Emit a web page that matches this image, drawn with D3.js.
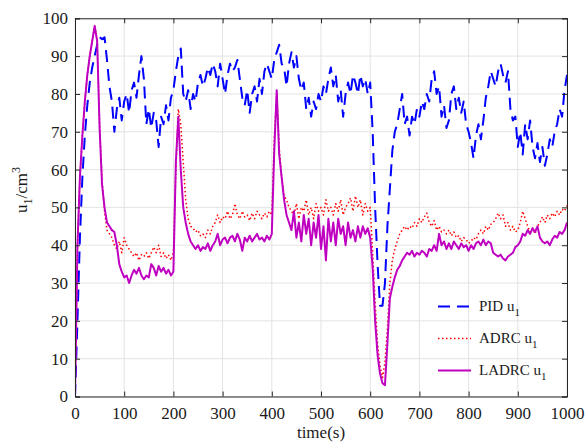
<!DOCTYPE html>
<html>
<head>
<meta charset="utf-8">
<script src="https://cdn.jsdelivr.net/npm/d3@7"></script>
<style>
  html, body { margin: 0; padding: 0; background: #ffffff; }
  svg { display: block; }
  text { font-family: "Liberation Serif", "Times New Roman", serif; fill: #1a1a1a; }
</style>
</head>
<body>
<svg id="chart" width="585" height="446"></svg>
<script>
// ---------------- data ----------------
const time = d3.range(0, 1001, 5); // sampling instants, s

const xTicks = [0, 100, 200, 300, 400, 500, 600, 700, 800, 900, 1000];
const yTicks = [0, 10, 20, 30, 40, 50, 60, 70, 80, 90, 100];

const seriesNames = ["PID", "ADRC", "LADRC"];

const pidU1 = [
  0, 20, 42, 58, 69, 77, 83, 87, 90, 93,
  95, 94.5, 95, 89, 82, 78, 70, 76, 79, 73,
  78, 80, 75, 81, 83, 79, 85, 90, 84, 72,
  76, 71, 75, 73, 66, 74, 72, 77, 73, 79,
  81, 86, 90, 92, 80, 78, 81, 76, 80, 78,
  83, 85, 82, 84, 87, 85, 88, 86, 82, 88,
  84, 80, 85, 88, 86, 87, 89, 84, 79, 77,
  81, 75, 80, 82, 78, 84, 80, 86, 88, 86,
  84, 89, 91, 93, 88, 87, 82, 88, 91, 87,
  90, 84, 81, 83, 76, 79, 74, 78, 76, 80,
  78, 82, 80, 84, 87, 82, 85, 78, 81, 74,
  80, 83, 80, 85, 83, 80, 85, 82, 84, 80,
  83, 70, 50, 35, 24, 24, 30, 45, 55, 65,
  70, 72, 76, 80, 72, 74, 69, 74, 72, 76,
  74, 78, 76, 80, 78, 84, 86, 80, 82, 74,
  77, 71, 73, 80, 82, 76, 79, 75, 78, 72,
  70, 67, 63, 69, 72, 68, 73, 79, 82, 86,
  84, 82, 86, 88, 85, 83, 86, 76, 73, 74,
  66, 70, 64, 72, 68, 73, 66, 63, 67, 62,
  66, 61, 64, 68, 66, 70, 72, 76, 74, 81,
  85
];

const adrcU1 = [
  0, 40, 58, 69, 78, 85, 90, 94, 98, 94,
  72, 57, 49, 44, 43, 42, 40, 39, 41, 38,
  42, 40, 39, 38, 37, 38, 36, 37.5, 37, 38,
  36.5, 38, 39.5, 38, 40, 37, 38, 36.5, 37.5, 36,
  38, 60, 76, 72, 62, 52, 47, 45, 44.5, 43.5,
  44, 42.5, 43, 42, 44, 43, 45, 46, 48, 46,
  47.5, 47, 49, 47, 48, 51, 48, 47, 49, 47.5,
  48, 46.5, 48.5, 47, 49, 48, 47, 48.5, 47.5, 49,
  48, 68, 80, 66, 58, 53, 52, 50, 49, 48,
  51, 47, 50, 49, 52, 48, 50, 47, 51, 49,
  50, 48, 52, 49, 50, 48, 51, 49, 52, 48,
  50, 51, 52.5, 49, 53, 50, 52, 48, 51, 49,
  50, 38, 25, 14, 8, 5, 9, 18, 30, 36,
  39, 41, 43, 44, 45, 44, 45, 44.5, 46, 45,
  47, 46, 47.5, 48.5, 46, 45, 46.5, 44, 45, 43.5,
  44, 43, 44, 42.5, 43.5, 42, 42.5, 41, 42, 41.5,
  40.5, 41, 42, 41.5, 43, 44, 43, 45, 44, 45.5,
  46, 47, 48.5, 47, 48, 45, 46, 44, 45, 43.5,
  44, 46, 49, 47, 45, 43.5, 44.5, 43, 45, 46,
  47.5, 46, 48, 47, 48.5, 47.5, 49, 48, 49.5, 49,
  50.5
];

const ladrcU1 = [
  0, 40, 58, 69, 78, 85, 90, 94, 98, 94,
  71, 56, 50, 46, 45, 44, 43.5, 40, 35, 33,
  31.5, 32, 30, 32, 33.5, 32.5, 34, 32, 31, 32,
  31.5, 35, 34, 32, 34.5, 33, 34, 32.5, 33.5, 32,
  33, 62, 74, 60, 50, 46, 43, 41, 40, 39,
  40, 38.5, 39.5, 39, 40.5, 38.5, 40, 41, 43, 40,
  41.5, 42, 40.5, 42, 42.5, 41, 43, 41.5, 38.5, 42,
  41, 42.5, 41, 42, 43, 41.5, 42, 41, 42.5, 41.5,
  43, 65, 81, 64, 58, 52, 48, 46, 44, 49,
  42, 46, 41, 48, 43, 47, 40, 46, 42, 48,
  39, 45, 36, 47, 41, 46, 40, 47, 43, 45,
  40, 46, 42, 44, 41, 45, 42, 45, 43, 44.5,
  42, 34, 20, 11, 6, 3.5, 3, 14, 26, 29,
  31.5, 33.5, 34.5, 36, 37, 38, 37.5, 38.5, 37, 38,
  37.5, 38.5, 38, 37, 39, 38.5, 40, 38.5, 43, 40,
  41, 39, 40.5, 39, 41, 40, 39, 40.5, 39.5, 40,
  38.5, 40, 39, 40.5, 41, 40, 41.5, 40, 41, 40.5,
  38, 37.5, 37, 37.5, 36.5, 36, 37, 37.5, 38, 39.5,
  40, 41, 43, 42.5, 44, 43, 44.5, 43.5, 45, 42,
  41, 40.5, 41, 40, 41.5, 42.5, 42, 43.5, 43, 44,
  46
];

// ---------------- layout ----------------
const svg = d3.select("#chart");
const margin = { left: 75, right: 18, top: 18, bottom: 50 };
const W = 585, H = 446;
const x = d3.scaleLinear().domain([0, 1000]).range([75, 567]);
const y = d3.scaleLinear().domain([0, 100]).range([396.5, 18.3]);

const axisColor = "#262626";
const gridColor = "#e3e3e3";
const fontSize = 17;

// grid
const grid = svg.append("g");
grid.selectAll("line.gx").data(xTicks).join("line")
  .attr("x1", d => x(d)).attr("x2", d => x(d))
  .attr("y1", y(0)).attr("y2", y(100))
  .attr("stroke", gridColor).attr("stroke-width", 1);
grid.selectAll("line.gy").data(yTicks).join("line")
  .attr("y1", d => y(d)).attr("y2", d => y(d))
  .attr("x1", x(0)).attr("x2", x(1000))
  .attr("stroke", gridColor).attr("stroke-width", 1);

// lines
const clip = svg.append("clipPath").attr("id", "clip").append("rect")
  .attr("x", x(0)).attr("y", y(100)).attr("width", x(1000) - x(0)).attr("height", y(0) - y(100));

const line = d3.line().x((d, i) => x(time[i])).y(d => y(d));
const plot = svg.append("g").attr("clip-path", "url(#clip)");

const styles = {
  PID:   { color: "#0000ff", width: 2, dash: "12,7" },
  ADRC:  { color: "#ff0000", width: 1.5, dash: "1.5,2.5" },
  LADRC: { color: "#c000c0", width: 2, dash: null }
};
const dataBy = { PID: pidU1, ADRC: adrcU1, LADRC: ladrcU1 };

seriesNames.forEach(name => {
  const s = styles[name];
  plot.append("path")
    .datum(dataBy[name])
    .attr("d", line)
    .attr("fill", "none")
    .attr("stroke", s.color)
    .attr("stroke-width", s.width)
    .attr("stroke-linejoin", "round")
    .attr("stroke-dasharray", s.dash);
});

// axes box with inward ticks
const axB = d3.axisBottom(x).tickValues(xTicks).tickSize(-5).tickPadding(10).tickFormat(d3.format("d"));
const axT = d3.axisTop(x).tickValues(xTicks).tickSize(-5).tickFormat("");
const axL = d3.axisLeft(y).tickValues(yTicks).tickSize(-5).tickPadding(7).tickFormat(d3.format("d"));
const axR = d3.axisRight(y).tickValues(yTicks).tickSize(-5).tickFormat("");

function styleAxis(g) {
  g.selectAll("path.domain").attr("stroke", axisColor).attr("stroke-width", 1);
  g.selectAll(".tick line").attr("stroke", axisColor);
  g.selectAll(".tick text").attr("font-family", "Liberation Serif, serif").attr("font-size", fontSize).attr("fill", "#1a1a1a");
}
svg.append("g").attr("transform", `translate(0,${y(0)})`).call(axB).call(styleAxis);
svg.append("g").attr("transform", `translate(0,${y(100)})`).call(axT).call(styleAxis);
svg.append("g").attr("transform", `translate(${x(0)},0)`).call(axL).call(styleAxis);
svg.append("g").attr("transform", `translate(${x(1000)},0)`).call(axR).call(styleAxis);

// axis titles
svg.append("text")
  .attr("x", (x(0) + x(1000)) / 2).attr("y", 438)
  .attr("text-anchor", "middle").attr("font-size", fontSize)
  .text("time(s)");

const yl = svg.append("text")
  .attr("transform", "translate(27,190) rotate(-90)")
  .attr("text-anchor", "middle").attr("font-size", fontSize);
yl.append("tspan").text("u");
yl.append("tspan").attr("font-size", 12).attr("dy", 5).text("1");
yl.append("tspan").attr("dy", -5).text("/cm");
yl.append("tspan").attr("font-size", 12).attr("dy", -7).text("3");

// legend
const legend = svg.append("g");
const legendY = [306.5, 338.5, 370.5];
seriesNames.forEach((name, i) => {
  const s = styles[name];
  const yy = legendY[i];
  legend.append("line")
    .attr("x1", 438).attr("x2", 471).attr("y1", yy).attr("y2", yy)
    .attr("stroke", s.color).attr("stroke-width", s.width)
    .attr("stroke-dasharray", s.dash);
  const t = legend.append("text")
    .attr("x", 479).attr("y", yy + 4)
    .attr("font-size", 15);
  t.append("tspan").text(name + " u");
  t.append("tspan").attr("font-size", 11).attr("dy", 5).text("1");
});
</script>
</body>
</html>
